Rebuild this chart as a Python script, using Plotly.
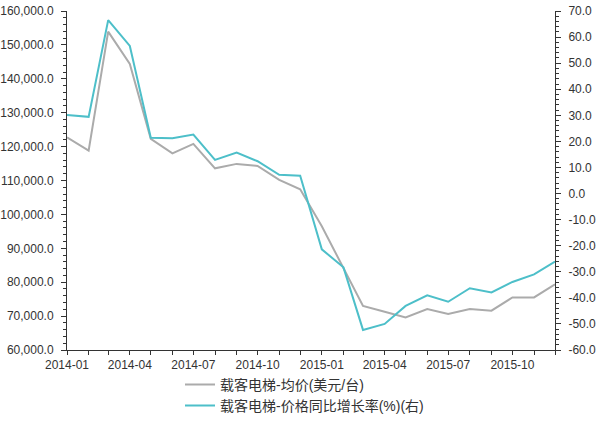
import plotly.graph_objects as go

months = ["2014-01", "2014-02", "2014-03", "2014-04", "2014-05", "2014-06",
          "2014-07", "2014-08", "2014-09", "2014-10", "2014-11", "2014-12",
          "2015-01", "2015-02", "2015-03", "2015-04", "2015-05", "2015-06",
          "2015-07", "2015-08", "2015-09", "2015-10", "2015-11", "2015-12"]
avg_price = [122700, 118800, 153900, 144400, 122300, 118000,
             120800, 113600, 114900, 114300, 110200, 107400,
             96500, 84300, 73000, 71300, 69600, 72100,
             70600, 72100, 71600, 75500, 75500, 79400]
yoy_growth = [30.1, 29.4, 66.5, 56.6, 21.4, 21.2,
              22.6, 12.9, 15.7, 12.4, 7.2, 6.8,
              -21.4, -28.3, -52.3, -50.0, -43.1, -39.0,
              -41.5, -36.3, -37.9, -33.9, -31.0, -26.1]
name_price = "载客电梯-均价(美元/台)"
name_growth = "载客电梯-价格同比增长率(%)(右)"
right_ticks = list(range(-60, 71, 10))
right_text = [f"{v:.1f}" for v in right_ticks]

dates = [m + "-01" for m in months]

fig = go.Figure()
fig.add_trace(go.Scatter(x=dates, y=avg_price, name=name_price, mode="lines",
                         line=dict(color="#ababab", width=2)))
fig.add_trace(go.Scatter(x=dates, y=yoy_growth, name=name_growth, mode="lines",
                         line=dict(color="#4dbfc9", width=2), yaxis="y2"))

axis_font = dict(family="Arial, 'Liberation Sans', sans-serif", size=12, color="#333333")
fig.update_layout(
    width=600, height=421,
    margin=dict(l=67, r=45, t=11, b=71, autoexpand=False),
    paper_bgcolor="white", plot_bgcolor="white",
    font=dict(family="Arial, 'Liberation Sans', 'Noto Sans CJK SC', sans-serif", color="#333333"),
    xaxis=dict(type="date", range=[dates[0], dates[-1]], dtick="M3", tick0=dates[0],
               tickformat="%Y-%m", showgrid=False, showline=True, linecolor="#333333",
               linewidth=1, ticks="outside", ticklen=4, tickcolor="#333333",
               tickfont=axis_font, automargin=False,
               minor=dict(dtick="M1", ticks="outside", ticklen=4, tickcolor="#333333", showgrid=False)),
    yaxis=dict(range=[60000, 160000], dtick=10000, tickformat=",.1f", showgrid=False,
               showline=True, linecolor="#333333", linewidth=1, ticks="outside",
               ticklen=5, tickcolor="#333333", tickfont=axis_font, zeroline=False,
               automargin=False, ticklabelstandoff=5,
               minor=dict(dtick=2000, ticks="outside", ticklen=3, tickcolor="#333333", showgrid=False)),
    yaxis2=dict(range=[-60, 70], overlaying="y", side="right", tickvals=right_ticks,
                ticktext=right_text, showgrid=False, showline=True, linecolor="#333333",
                linewidth=1, ticks="outside", ticklen=5, tickcolor="#333333",
                tickfont=axis_font, zeroline=False, automargin=False, ticklabelstandoff=5,
                minor=dict(dtick=2, ticks="outside", ticklen=3, tickcolor="#333333", showgrid=False)),
    legend=dict(orientation="v", xref="container", x=0.30, xanchor="left",
                yref="container", y=0.124, yanchor="top",
                font=dict(size=14, color="#333333"), tracegroupgap=0,
                bgcolor="rgba(0,0,0,0)"),
    showlegend=True,
)

fig.write_html("out.html")
